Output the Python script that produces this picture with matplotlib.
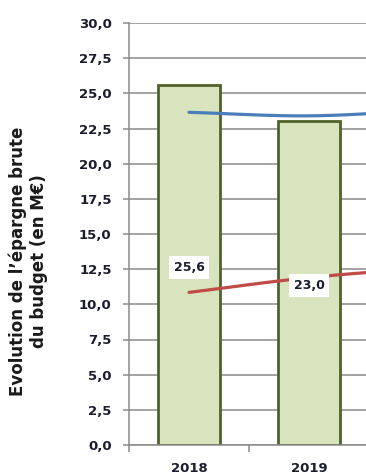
"""
Evolution de l'épargne brute du budget (en M€) : barres annuelles
avec deux courbes lissées superposées.
"""

import matplotlib
matplotlib.use("Agg")
import matplotlib.pyplot as plt
import numpy as np
from matplotlib.ticker import FixedLocator, FuncFormatter


years = ["2018", "2019", "2020"]
epargne_brute = [25.6, 23.0]
courbe_bleue = [23.65, 23.4, 23.8]
courbe_rouge = [10.85, 11.9, 12.6]
y_ticks = np.arange(0, 30.01, 2.5)

TEXT_COLOR = "#1c1c30"
GRID_COLOR = "#8a8a8a"


def smoothCurve(xs, ys, steps=40):
    """
    Catmull-Rom spline through the points, close to the spreadsheet
    "smoothed line" rendering.
    """
    xs = np.asarray(xs, dtype=float)
    ys = np.asarray(ys, dtype=float)
    px = np.concatenate([[2 * xs[0] - xs[1]], xs, [2 * xs[-1] - xs[-2]]])
    py = np.concatenate([[2 * ys[0] - ys[1]], ys, [2 * ys[-1] - ys[-2]]])
    outX, outY = [], []
    t = np.linspace(0, 1, steps)
    for i in range(1, len(px) - 2):
        for p, out in ((px, outX), (py, outY)):
            p0, p1, p2, p3 = p[i - 1], p[i], p[i + 1], p[i + 2]
            out.extend(0.5 * ((2 * p1) + (-p0 + p2) * t
                              + (2 * p0 - 5 * p1 + 4 * p2 - p3) * t ** 2
                              + (-p0 + 3 * p1 - 3 * p2 + p3) * t ** 3))
    return np.array(outX), np.array(outY)


def main():
    fig = plt.figure(figsize=(3.66, 4.75), dpi=100)
    ax = fig.add_axes([129 / 366, 30 / 475, 237 / 366, 422 / 475])

    x = np.arange(len(years))

    # Bars
    bars = ax.bar(x[:len(epargne_brute)], epargne_brute, width=0.52,
                  color="#d7e4bd", edgecolor="#4f6228", linewidth=2.0,
                  zorder=2)

    # Smoothed lines
    bx, by = smoothCurve(x, courbe_bleue)
    ax.plot(bx, by, color="#4a7ebb", linewidth=2.3, zorder=3,
            solid_capstyle="round")
    rx, ry = smoothCurve(x, courbe_rouge)
    ax.plot(rx, ry, color="#be4b48", linewidth=2.3, zorder=3,
            solid_capstyle="round")

    # Value labels in the middle of each bar
    for rect, val in zip(bars, epargne_brute):
        ax.text(rect.get_x() + rect.get_width() / 2, val / 2 - 0.15,
                f"{val:.1f}".replace(".", ","),
                ha="center", va="center", fontsize=9, fontweight="bold",
                color=TEXT_COLOR, zorder=4,
                bbox=dict(boxstyle="square,pad=0.4", facecolor="white",
                          edgecolor="none"))

    # Axes settings
    ax.yaxis.set_major_locator(FixedLocator(y_ticks))
    ax.yaxis.set_major_formatter(
        FuncFormatter(lambda v, _: f"{v:.1f}".replace(".", ",")))
    ax.grid(axis="y", color=GRID_COLOR, linewidth=1.1, zorder=0)
    ax.set_axisbelow(True)

    ax.set_xticks(x)
    ax.set_xticklabels(years)
    ax.set_xticks(np.arange(-0.5, len(years), 1.0), minor=True)
    ax.tick_params(axis="x", which="major", length=0, pad=12)
    ax.tick_params(axis="x", which="minor", length=5, width=1.1,
                   color=GRID_COLOR)
    ax.tick_params(axis="y", length=4.5, width=1.1, color=GRID_COLOR, pad=8)
    for lab in ax.get_xticklabels() + ax.get_yticklabels():
        lab.set_fontweight("bold")
        lab.set_fontsize(9.5)
        lab.set_color(TEXT_COLOR)

    # Limits last, so the tick setup does not widen them
    ax.set_ylim(0, 30)
    ax.set_xlim(-0.5, -0.5 + 237 / 120)

    for side in ("top", "right"):
        ax.spines[side].set_visible(False)
    for side in ("left", "bottom"):
        ax.spines[side].set_color(GRID_COLOR)
        ax.spines[side].set_linewidth(1.1)

    fig.text(0.077, 0.45, "Evolution de l’épargne brute\ndu budget (en M€)",
             rotation=90, ha="center", va="center", fontsize=12,
             fontweight="bold", color="#1a1a1a", linespacing=1.25)

    fig.savefig("out.png", dpi=100)


if __name__ == "__main__":
    main()
